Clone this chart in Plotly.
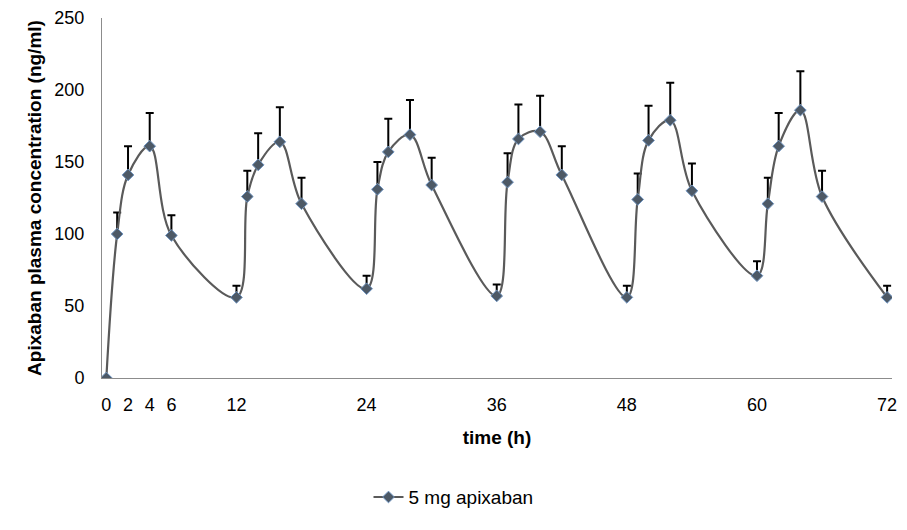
import plotly.graph_objects as go

time_h = [0, 1, 2, 4, 6, 12, 13, 14, 16, 18, 24, 25, 26, 28, 30, 36, 37, 38, 40, 42,
          48, 49, 50, 52, 54, 60, 61, 62, 64, 66, 72]
conc = [0, 100, 141, 161, 99, 56, 126, 148, 164, 121, 62, 131, 157, 169, 134, 57, 136, 166, 171, 141,
        56, 124, 165, 179, 130, 71, 121, 161, 186, 126, 56]
upper = [0, 115, 161, 184, 113, 64, 144, 170, 188, 139, 71, 150, 180, 193, 153, 65, 156, 190, 196, 161,
         64, 142, 189, 205, 149, 81, 139, 184, 213, 144, 64]
err = [u - c for u, c in zip(upper, conc)]

x_ticks = [0, 2, 4, 6, 12, 24, 36, 48, 60, 72]
y_ticks = [0, 50, 100, 150, 200, 250]

font_family = "Liberation Sans"

fig = go.Figure()
fig.add_trace(go.Scatter(
    x=time_h, y=conc, mode="lines+markers", name="5 mg apixaban",
    line=dict(color="#5a5a5a", width=2.2, shape="spline", smoothing=1.0),
    marker=dict(symbol="diamond", size=9, color="#4d5966",
                line=dict(color="#6f94c0", width=1)),
    error_y=dict(type="data", symmetric=False, array=err,
                 arrayminus=[0] * len(err), color="black", thickness=2, width=4),
))

fig.update_layout(
    width=907, height=530,
    margin=dict(l=102, r=15, t=18, b=152),
    paper_bgcolor="white", plot_bgcolor="white",
    font=dict(family=font_family, size=18, color="black"),
    showlegend=True,
    legend=dict(orientation="h", xref="container", yref="container",
                x=0.5, xanchor="center", y=0.062, yanchor="middle",
                font=dict(size=19, family=font_family)),
    xaxis=dict(range=[-0.4, 72.45], tickmode="array", tickvals=x_ticks,
               ticktext=[str(t) for t in x_ticks], automargin=False,
               showgrid=False, zeroline=False, showline=True, linecolor="#8c8c8c",
               linewidth=1, ticks="", tickfont=dict(size=18), ticklabelstandoff=10,
               title=dict(text="<b>time (h)</b>", font=dict(size=19), standoff=17)),
    yaxis=dict(range=[0, 250], tickmode="array", tickvals=y_ticks, automargin=False,
               showgrid=False, zeroline=False, showline=True, linecolor="#8c8c8c",
               linewidth=1, ticks="", tickfont=dict(size=18), ticklabelstandoff=13,
               title=dict(text="<b>Apixaban plasma concentration (ng/ml)</b>",
                          font=dict(size=19), standoff=7)),
)

fig.write_html("out.html", config={"displayModeBar": False},
               post_script="document.body.style.margin='0';document.body.style.padding='0';")
